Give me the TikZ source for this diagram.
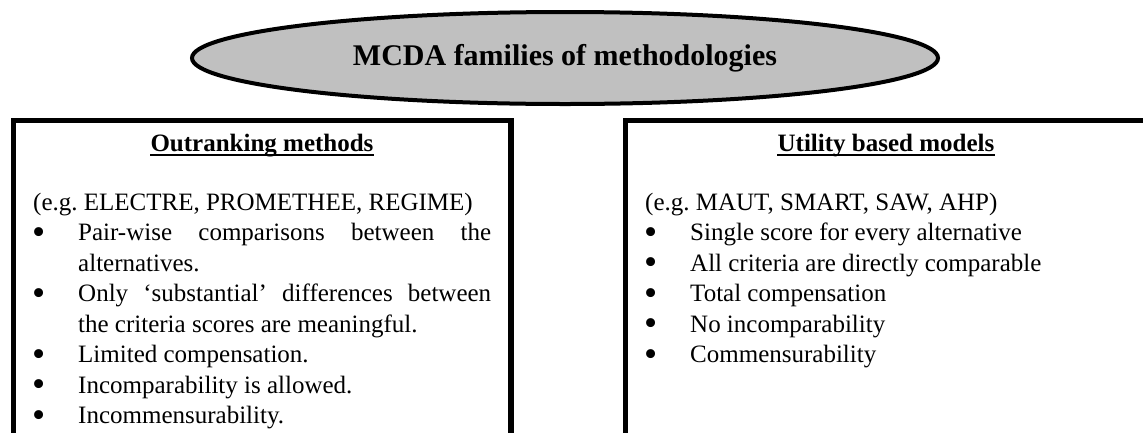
\documentclass[tikz,border=0pt]{standalone}
\usepackage{fontspec}
\usepackage{graphicx}
\setmainfont{Liberation Serif}
\usetikzlibrary{shapes.geometric}

\definecolor{ovalgray}{RGB}{192,192,192}

%% one bullet line, hanging indent
\newcommand{\bul}{\par\noindent\hangindent=45pt\hangafter=1%
  \hbox to 45pt{\kern-1pt\smash{\raisebox{-3.5pt}{\scalebox{1.5}{\textbullet}}}\hfil}}

\hyphenpenalty=10000
\exhyphenpenalty=10000
\tolerance=10000
\frenchspacing

\begin{document}
\begin{tikzpicture}[x=1pt, y=-1pt,
  famframe/.style={line width=5.5pt},
  famhead/.style={anchor=base, inner sep=0pt, font=\bfseries\fontsize{25}{30}\selectfont},
  famtext/.style={anchor=base west, inner sep=0pt, align=justify, text width=458pt,
    font=\fontsize{25}{30.5}\selectfont}]

\useasboundingbox (0, 0) rectangle (1143, 432);
\clip (0, 0) rectangle (1143, 432);

%% the two family boxes (they run off the page)
\draw[famframe] (13.5, 120.5) rectangle (511, 470);
\draw[famframe] (625.5, 120.5) rectangle (1150, 470);

\node (title) at (565, 58) [ellipse, draw, line width=4pt, fill=ovalgray,
  minimum width=746pt, minimum height=92pt, inner sep=0pt,
  font=\bfseries\fontsize{30}{36}\selectfont] {MCDA families of methodologies};

\node (outhead) at (262, 151) [famhead] {Outranking methods};
\node (utilhead) at (886, 151) [famhead] {Utility based models};

\draw[line width=1.4pt] ([yshift=-4pt]outhead.base west) -- ([yshift=-4pt]outhead.base east);
\draw[line width=1.4pt] ([yshift=-4pt]utilhead.base west) -- ([yshift=-4pt]utilhead.base east);

\node (outtext) at (33, 210) [famtext] {\noindent(e.g. ELECTRE, PROMETHEE, REGIME)
  \bul Pair-wise comparisons between the alternatives.
  \bul Only `substantial' differences between the criteria scores are meaningful.
  \bul Limited compensation.
  \bul Incomparability is allowed.
  \bul Incommensurability.};

\node (utiltext) at (645, 210) [famtext] {\noindent(e.g. MAUT, SMART, SAW, AHP)
  \bul Single score for every alternative
  \bul All criteria are directly comparable
  \bul Total compensation
  \bul No incomparability
  \bul Commensurability};

\end{tikzpicture}
\end{document}
